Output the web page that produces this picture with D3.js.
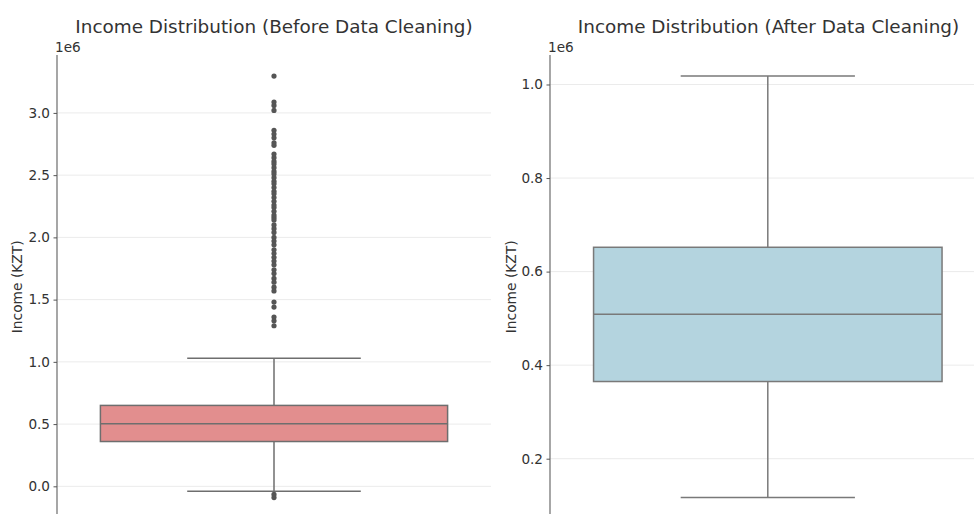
<!DOCTYPE html>
<html><head><meta charset="utf-8">
<script src="https://cdn.jsdelivr.net/npm/d3@7"></script>
<style>
html,body{margin:0;padding:0;background:#fff;overflow:hidden}
text{font-family:"DejaVu Sans",sans-serif;fill:#333}
</style></head>
<body><svg id="c" width="974" height="514"></svg>
<script>
// ---- data (values in KZT) ----
const titles = ["Income Distribution (Before Data Cleaning)", "Income Distribution (After Data Cleaning)"];
const yLabel = "Income (KZT)";
const beforeStats = {whislo: -40000, q1: 360000, med: 503000, q3: 650000, whishi: 1028000};
const beforeFliers = [3296000, 3087000, 3060000, 3020000, 2860000, 2830000, 2800000, 2760000, 2740000,
  2670000, 2640000, 2610000, 2590000, 2560000, 2530000, 2510000, 2480000, 2450000, 2430000, 2400000,
  2370000, 2350000, 2320000, 2290000, 2260000, 2240000, 2210000, 2180000, 2160000, 2140000, 2100000,
  2070000, 2040000, 2000000, 1970000, 1940000, 1900000, 1870000, 1840000, 1810000, 1780000, 1740000,
  1710000, 1670000, 1640000, 1600000, 1570000, 1480000, 1440000, 1360000, 1330000, 1290000,
  -65000, -90000];
const afterStats = {whislo: 117000, q1: 365000, med: 509000, q3: 652000, whishi: 1018000};
const afterFliers = [];
const beforeTicks = [0, 0.5, 1.0, 1.5, 2.0, 2.5, 3.0];
const afterTicks = [0.2, 0.4, 0.6, 0.8, 1.0];
const fills = ["#e28e8e", "#b4d4df"];
const lineColors = ["#6e6e6e", "#797979"];

(function () {
const svg = d3.select("#c");
const panels = [
  {title: titles[0], stats: beforeStats, fliers: beforeFliers, ticks: beforeTicks, fill: fills[0], lc: lineColors[0],
   x0: 57, x1: 491, titleX: 274, labelX: 17},
  {title: titles[1], stats: afterStats, fliers: afterFliers, ticks: afterTicks, fill: fills[1], lc: lineColors[1],
   x0: 550, x1: 985.6, titleX: 768.5, labelX: 511}
];
const plotTop = 55, plotBottom = 518.6;

panels.forEach(p => {
  const s = p.stats;
  const allVals = [s.whislo, s.whishi, ...p.fliers];
  const mn = d3.min(allVals), mx = d3.max(allVals), pad = (mx - mn) * 0.05;
  const y = d3.scaleLinear().domain([mn - pad, mx + pad]).range([plotBottom, plotTop]);
  const x = d3.scaleBand().domain(["Income"]).range([p.x0, p.x1]).paddingInner(0.2).paddingOuter(0.1);
  const g = svg.append("g");

  g.selectAll("line.grid").data(p.ticks).join("line")
    .attr("x1", p.x0).attr("x2", p.x1)
    .attr("y1", d => y(d * 1e6)).attr("y2", d => y(d * 1e6))
    .attr("stroke", "#ebebeb").attr("stroke-width", 1);

  const cx = x("Income") + x.bandwidth() / 2;
  const bw = x.bandwidth();
  g.append("line").attr("x1", cx).attr("x2", cx).attr("y1", y(s.q3)).attr("y2", y(s.whishi))
    .attr("stroke", p.lc).attr("stroke-width", 1.5);
  g.append("line").attr("x1", cx).attr("x2", cx).attr("y1", y(s.q1)).attr("y2", y(s.whislo))
    .attr("stroke", p.lc).attr("stroke-width", 1.5);
  [s.whishi, s.whislo].forEach(v => {
    g.append("line").attr("x1", cx - bw / 4).attr("x2", cx + bw / 4).attr("y1", y(v)).attr("y2", y(v))
      .attr("stroke", p.lc).attr("stroke-width", 1.5);
  });
  g.append("rect").attr("x", x("Income")).attr("width", bw)
    .attr("y", y(s.q3)).attr("height", y(s.q1) - y(s.q3))
    .attr("fill", p.fill).attr("stroke", p.lc).attr("stroke-width", 1.5);
  g.append("line").attr("x1", x("Income")).attr("x2", x("Income") + bw)
    .attr("y1", y(s.med)).attr("y2", y(s.med)).attr("stroke", p.lc).attr("stroke-width", 1.5);
  g.selectAll("circle.fl").data(p.fliers).join("circle")
    .attr("cx", cx).attr("cy", d => y(d)).attr("r", 2.6)
    .attr("fill", "#555");

  const ax = g.append("g").attr("transform", `translate(${p.x0},0)`)
    .call(d3.axisLeft(y).tickValues(p.ticks.map(t => t * 1e6)).tickFormat(d => (d / 1e6).toFixed(1))
      .tickSize(3.5).tickPadding(3.5));
  ax.select(".domain").attr("d", `M0,${plotTop}V${plotBottom}`).attr("stroke", "#777").attr("stroke-width", 1.3);
  ax.selectAll(".tick line").attr("stroke", "#555");
  ax.selectAll(".tick text").attr("font-size", 13.6).attr("fill", "#333").style("font-family", "DejaVu Sans");

  g.append("text").attr("x", p.x0 - 2).attr("y", 52).attr("font-size", 13.6).text("1e6");
  g.append("text").attr("transform", `translate(${p.labelX},${(plotTop + plotBottom) / 2}) rotate(-90)`)
    .attr("text-anchor", "middle").attr("dominant-baseline", "central").attr("font-size", 13.8).text(yLabel);
  g.append("text").attr("x", p.titleX).attr("y", 32.5).attr("text-anchor", "middle")
    .attr("font-size", 18.4).text(p.title);
});
})();
</script></body></html>
